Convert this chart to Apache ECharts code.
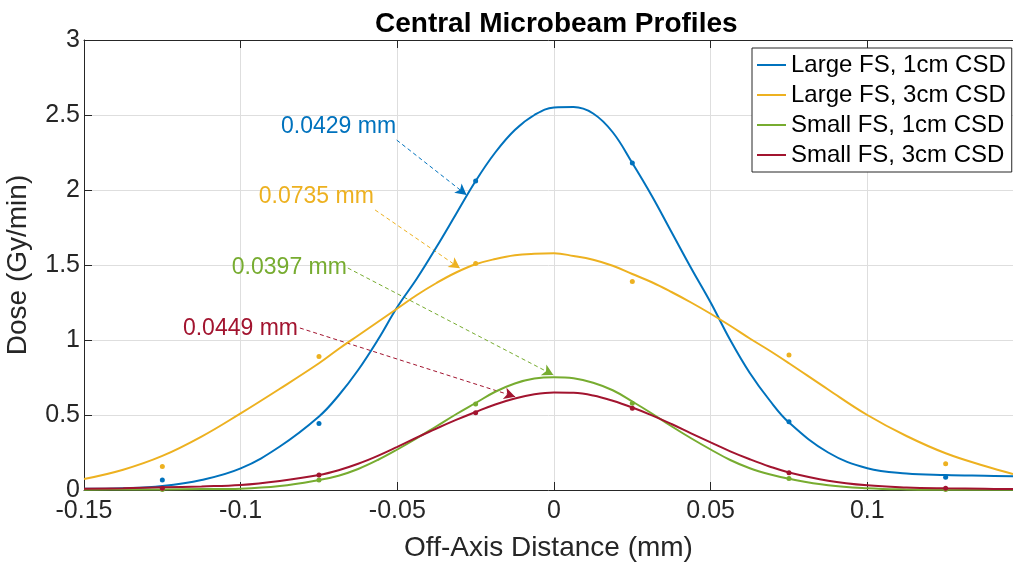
<!DOCTYPE html>
<html>
<head>
<meta charset="utf-8">
<script src="https://cdn.jsdelivr.net/npm/echarts@6/dist/echarts.min.js"></script>
<style>html,body{margin:0;padding:0;background:#fff}#c{width:1013px;height:562px}</style>
</head>
<body>
<div id="c"></div>
<script>
// ---- data ----
var seriesNames = ['Large FS, 1cm CSD', 'Large FS, 3cm CSD', 'Small FS, 1cm CSD', 'Small FS, 3cm CSD'];
var colors = ['#0072BD', '#EDB120', '#77AC30', '#A2142F'];

var xFit = [-0.15, -0.1375, -0.125, -0.1125, -0.1, -0.0875, -0.075,
            -0.06875, -0.0625, -0.05625, -0.05, -0.04375, -0.0375, -0.03125, -0.025, -0.01875, -0.0125, -0.00625, 0,
            0.00625, 0.0125, 0.01875, 0.025, 0.03125, 0.0375, 0.04375, 0.05, 0.05625, 0.0625, 0.06875, 0.075,
            0.0875, 0.1, 0.1125, 0.125, 0.1375, 0.1465];
var fitLarge1 = [0.008, 0.012, 0.027, 0.067, 0.144, 0.29, 0.49,
                 0.63, 0.80, 1.0, 1.22, 1.41, 1.62, 1.84, 2.06, 2.25, 2.40, 2.50, 2.55,
                 2.553, 2.51, 2.385, 2.18, 1.96, 1.72, 1.48, 1.25, 1.0, 0.78, 0.60, 0.45,
                 0.25, 0.145, 0.11, 0.10, 0.095, 0.092];
var fitLarge3 = [0.073, 0.135, 0.227, 0.356, 0.511, 0.675, 0.845,
                 0.94, 1.03, 1.12, 1.21, 1.30, 1.38, 1.45, 1.505, 1.54, 1.565, 1.575, 1.578,
                 1.56, 1.535, 1.495, 1.44, 1.385, 1.32, 1.25, 1.175, 1.095, 1.01, 0.93, 0.845,
                 0.67, 0.5, 0.36, 0.245, 0.16, 0.107];
var fitSmall1 = [0.002, 0.003, 0.004, 0.006, 0.009, 0.026, 0.066,
                 0.095, 0.14, 0.2, 0.27, 0.345, 0.425, 0.505, 0.58, 0.655, 0.71, 0.743, 0.752,
                 0.745, 0.715, 0.665, 0.59, 0.51, 0.425, 0.345, 0.27, 0.2, 0.145, 0.105, 0.075,
                 0.032, 0.012, 0.004, 0.002, 0.001, 0.001];
var fitSmall3 = [0.008, 0.012, 0.018, 0.024, 0.033, 0.06, 0.10,
                 0.132, 0.175, 0.228, 0.288, 0.35, 0.41, 0.467, 0.52, 0.57, 0.61, 0.638, 0.65,
                 0.648, 0.63, 0.595, 0.55, 0.498, 0.44, 0.378, 0.317, 0.258, 0.205, 0.157, 0.117,
                 0.062, 0.031, 0.017, 0.011, 0.008, 0.006];

var xMeas = [-0.125, -0.075, -0.025, 0.025, 0.075, 0.125];
var measLarge1 = [0.067, 0.444, 2.06, 2.18, 0.455, 0.085];
var measLarge3 = [0.156, 0.89, 1.51, 1.39, 0.90, 0.175];
var measSmall1 = [0.004, 0.067, 0.573, 0.578, 0.076, 0.004];
var measSmall3 = [0.011, 0.10, 0.515, 0.545, 0.115, 0.012];

var annoText = ['0.0429 mm', '0.0735 mm', '0.0397 mm', '0.0449 mm'];
var annoTextX = [-0.0504, -0.0575, -0.0661, -0.0817];
var annoTextY = [2.422, 1.955, 1.48, 1.078];
var arrowStartX = [-0.0502, -0.0571, -0.0658, -0.0811];
var arrowStartY = [2.333, 1.867, 1.48, 1.08];
var arrowEndX = [-0.0279, -0.030, -0.0002, -0.0124];
var arrowEndY = [1.967, 1.478, 0.767, 0.622];

var xTicks = [-0.15, -0.1, -0.05, 0, 0.05, 0.1];
var yTicks = [0, 0.5, 1, 1.5, 2, 2.5, 3];

// ---- chart ----
var FONT = 'Liberation Sans, Arial, sans-serif';
var fits = [fitLarge1, fitLarge3, fitSmall1, fitSmall3];
var meas = [measLarge1, measLarge3, measSmall1, measSmall3];
function pairs(xs, ys) { return xs.map(function (x, i) { return [x, ys[i]]; }); }

var series = [];
for (var k = 0; k < 4; k++) {
  series.push({
    name: seriesNames[k], type: 'line', data: pairs(xFit, fits[k]),
    smooth: 0.4, symbol: 'none', showSymbol: false, z: 5,
    lineStyle: { color: colors[k], width: 2 }, itemStyle: { color: colors[k] },
    markLine: {
      silent: true, animation: false, symbol: ['none', 'arrow'], symbolSize: [9, 11],
      label: { show: false },
      lineStyle: { color: colors[k], type: [4, 3], width: 1, opacity: 1 },
      data: [[{ coord: [arrowStartX[k], arrowStartY[k]] }, { coord: [arrowEndX[k], arrowEndY[k]] }]]
    }
  });
}
for (var k2 = 0; k2 < 4; k2++) {
  series.push({
    name: 'pts' + k2, type: 'scatter', data: pairs(xMeas, meas[k2]),
    symbol: 'circle', symbolSize: 5, z: 6, itemStyle: { color: colors[k2], opacity: 1 }
  });
}
for (var k3 = 0; k3 < 4; k3++) {
  series.push({
    name: 'anno' + k3, type: 'scatter', data: [[annoTextX[k3], annoTextY[k3]]],
    symbolSize: 0, z: 7, silent: true, itemStyle: { opacity: 1 },
    label: {
      show: true, position: 'left', distance: 0, formatter: annoText[k3], opacity: 1,
      color: colors[k3], fontSize: 23, fontFamily: FONT
    }
  });
}

var axisColor = '#262626';
var chart = echarts.init(document.getElementById('c'), null, { renderer: 'canvas' });
chart.setOption({
  animation: false,
  backgroundColor: '#ffffff',
  title: {
    text: 'Central Microbeam Profiles', left: 370, top: 5,
    textStyle: { fontFamily: FONT, fontWeight: 'bold', fontSize: 28, color: '#000' }
  },
  grid: { left: 84, top: 40, right: 0, bottom: 72, containLabel: false, outerBoundsMode: 'none' },
  legend: {
    data: seriesNames.map(function (n) { return { name: n, icon: 'rect' }; }),
    orient: 'vertical', left: 752, top: 48,
    padding: [5, 6, 5, 5], itemGap: 6, itemWidth: 29, itemHeight: 2,
    backgroundColor: '#ffffff', borderColor: axisColor, borderWidth: 1, borderRadius: 0,
    textStyle: { fontFamily: FONT, fontSize: 24, color: '#000', lineHeight: 22 }
  },
  xAxis: [{
    type: 'value', min: -0.15, max: 0.1465, interval: 0.05, position: 'bottom',
    name: 'Off-Axis Distance (mm)', nameLocation: 'middle', nameGap: 44,
    nameTextStyle: { fontFamily: FONT, fontSize: 28, color: axisColor },
    axisLine: { show: true, onZero: false, lineStyle: { color: axisColor, width: 1 } },
    axisTick: { show: true, inside: true, length: 8, lineStyle: { color: axisColor } },
    axisLabel: {
      fontFamily: FONT, fontSize: 25, color: axisColor, margin: 9, showMaxLabel: false,
      formatter: function (v) {
        for (var i = 0; i < xTicks.length; i++) if (Math.abs(v - xTicks[i]) < 1e-9) return String(xTicks[i]);
        return '';
      }
    },
    splitLine: { show: true, lineStyle: { color: '#dedede', width: 1 } }
  }, {
    type: 'value', min: -0.15, max: 0.1465, interval: 0.05, position: 'top',
    axisLine: { show: true, onZero: false, lineStyle: { color: axisColor, width: 1 } },
    axisTick: { show: true, inside: true, length: 8, lineStyle: { color: axisColor } },
    axisLabel: { show: false }, splitLine: { show: false }
  }],
  yAxis: {
    type: 'value', min: 0, max: 3, interval: 0.5, position: 'left',
    name: 'Dose (Gy/min)', nameLocation: 'middle', nameGap: 52,
    nameTextStyle: { fontFamily: FONT, fontSize: 28, color: axisColor },
    axisLine: { show: true, onZero: false, lineStyle: { color: axisColor, width: 1 } },
    axisTick: { show: true, inside: true, length: 8, lineStyle: { color: axisColor } },
    axisLabel: {
      fontFamily: FONT, fontSize: 25, color: axisColor, margin: 4,
      formatter: function (v) {
        for (var i = 0; i < yTicks.length; i++) if (Math.abs(v - yTicks[i]) < 1e-9) return String(yTicks[i]);
        return '';
      }
    },
    splitLine: { show: true, lineStyle: { color: '#dedede', width: 1 } }
  },
  series: series
});
</script>
</body>
</html>
